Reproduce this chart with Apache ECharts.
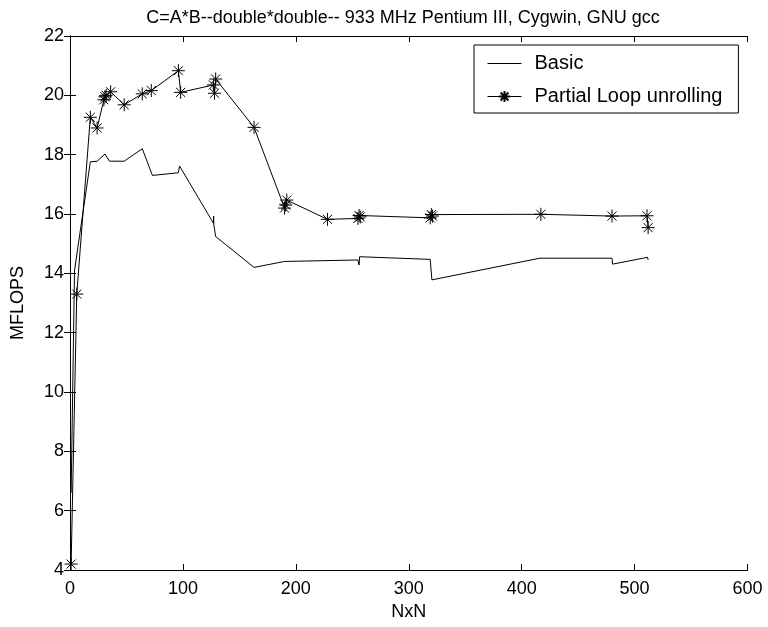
<!DOCTYPE html>
<html><head><meta charset="utf-8">
<script src="https://cdn.jsdelivr.net/npm/echarts@6/dist/echarts.min.js"></script>
<style>html,body{margin:0;padding:0;background:#fff}#c{width:768px;height:627px}</style>
</head><body><div id="c"></div>
<script>
const titleText = 'C=A*B--double*double-- 933 MHz Pentium III, Cygwin, GNU gcc';
const xTicks = [0, 100, 200, 300, 400, 500, 600];
const yTicks = [4, 6, 8, 10, 12, 14, 16, 18, 20, 22];
const seriesNames = ['Basic', 'Partial Loop unrolling'];
const basicX = [1, 4, 18, 24, 31, 35, 48, 64, 73, 96, 97, 127, 127.2, 127.4, 129, 163, 190, 255, 256, 256.5, 319, 320.5, 416, 480, 480.5, 511.5, 512];
const basicY = [6.6, 14.1, 17.76, 17.78, 18.02, 17.78, 17.78, 18.2, 17.3, 17.39, 17.62, 15.69, 15.93, 15.63, 15.24, 14.2, 14.4, 14.45, 14.28, 14.56, 14.47, 13.78, 14.51, 14.51, 14.31, 14.54, 14.45];
const partialX = [1, 6, 18, 24, 30, 31, 32, 36, 48, 64, 72, 96, 98, 127, 128, 129, 163, 190, 191, 192, 228, 255, 256, 257, 319, 320, 321, 417, 480, 511, 512];
const partialY = [4.2, 13.3, 19.26, 18.9, 19.85, 19.95, 20.0, 20.12, 19.68, 20.05, 20.16, 20.83, 20.1, 20.35, 20.07, 20.55, 18.92, 16.2, 16.3, 16.47, 15.82, 15.85, 15.95, 15.9, 15.87, 15.98, 15.93, 15.99, 15.93, 15.94, 15.54];

const FONT = 'Liberation Sans, Arial, Helvetica, sans-serif';
const FS = 18;
const star = 'path://M10,0L10,20M0,10L20,10M3,3L17,17M3,17L17,3';
const zip = (xs, ys) => xs.map((x, i) => [x, ys[i]]);

const axisCommon = {
  type: 'value',
  axisLine: { show: true, lineStyle: { color: '#000', width: 1 } },
  axisTick: { show: true, inside: true, length: 6, lineStyle: { color: '#000' } },
  splitLine: { show: false },
  axisLabel: { color: '#000', fontSize: FS, fontFamily: FONT }
};

const chart = echarts.init(document.getElementById('c'), null, { renderer: 'canvas' });
chart.setOption({
  animation: false,
  backgroundColor: '#fff',
  title: {
    text: titleText, left: 398, textAlign: 'center', top: 4,
    textStyle: { fontSize: FS, fontWeight: 'normal', color: '#000', fontFamily: FONT }
  },
  grid: { left: 70, right: 20.5, top: 36, bottom: 57, containLabel: false },
  legend: {
    orient: 'vertical', left: 474, top: 45,
    data: seriesNames,
    itemWidth: 34, itemHeight: 14, itemGap: 10,
    padding: [7, 16, 5, 13],
    borderColor: '#000', borderWidth: 1, backgroundColor: '#fff',
    lineStyle: { width: 1 },
    textStyle: { fontSize: 20, lineHeight: 23, fontFamily: FONT, color: '#000', padding: [0, 0, 0, 8] }
  },
  xAxis: [
    Object.assign({}, axisCommon, {
      min: xTicks[0], max: xTicks[xTicks.length - 1], interval: xTicks[1] - xTicks[0],
      name: 'NxN', nameLocation: 'middle', nameGap: 32,
      nameTextStyle: { fontSize: FS, fontFamily: FONT, color: '#000' },
      axisLabel: Object.assign({}, axisCommon.axisLabel, { margin: 10 })
    }),
    Object.assign({}, axisCommon, {
      position: 'top', min: xTicks[0], max: xTicks[xTicks.length - 1], interval: xTicks[1] - xTicks[0],
      axisLabel: { show: false }
    })
  ],
  yAxis: [
    Object.assign({}, axisCommon, {
      min: yTicks[0], max: yTicks[yTicks.length - 1], interval: yTicks[1] - yTicks[0],
      name: 'MFLOPS', nameLocation: 'middle', nameGap: 43,
      nameTextStyle: { fontSize: FS, fontFamily: FONT, color: '#000' },
      axisLabel: Object.assign({}, axisCommon.axisLabel, { margin: 6 })
    }),
    Object.assign({}, axisCommon, {
      position: 'right', min: yTicks[0], max: yTicks[yTicks.length - 1], interval: yTicks[1] - yTicks[0],
      axisLabel: { show: false }
    })
  ],
  series: [
    {
      name: seriesNames[0], type: 'line', data: zip(basicX, basicY),
      symbol: 'circle', showSymbol: false,
      lineStyle: { color: '#000', width: 1 },
      itemStyle: { color: 'rgba(0,0,0,0)', borderColor: 'rgba(0,0,0,0)', borderWidth: 0 }
    },
    {
      name: seriesNames[1], type: 'line', data: zip(partialX, partialY),
      symbol: star, symbolSize: 13, showAllSymbol: true,
      lineStyle: { color: '#000', width: 1 },
      itemStyle: { color: '#000', borderColor: '#000', borderWidth: 1 }
    }
  ]
});
</script></body></html>
